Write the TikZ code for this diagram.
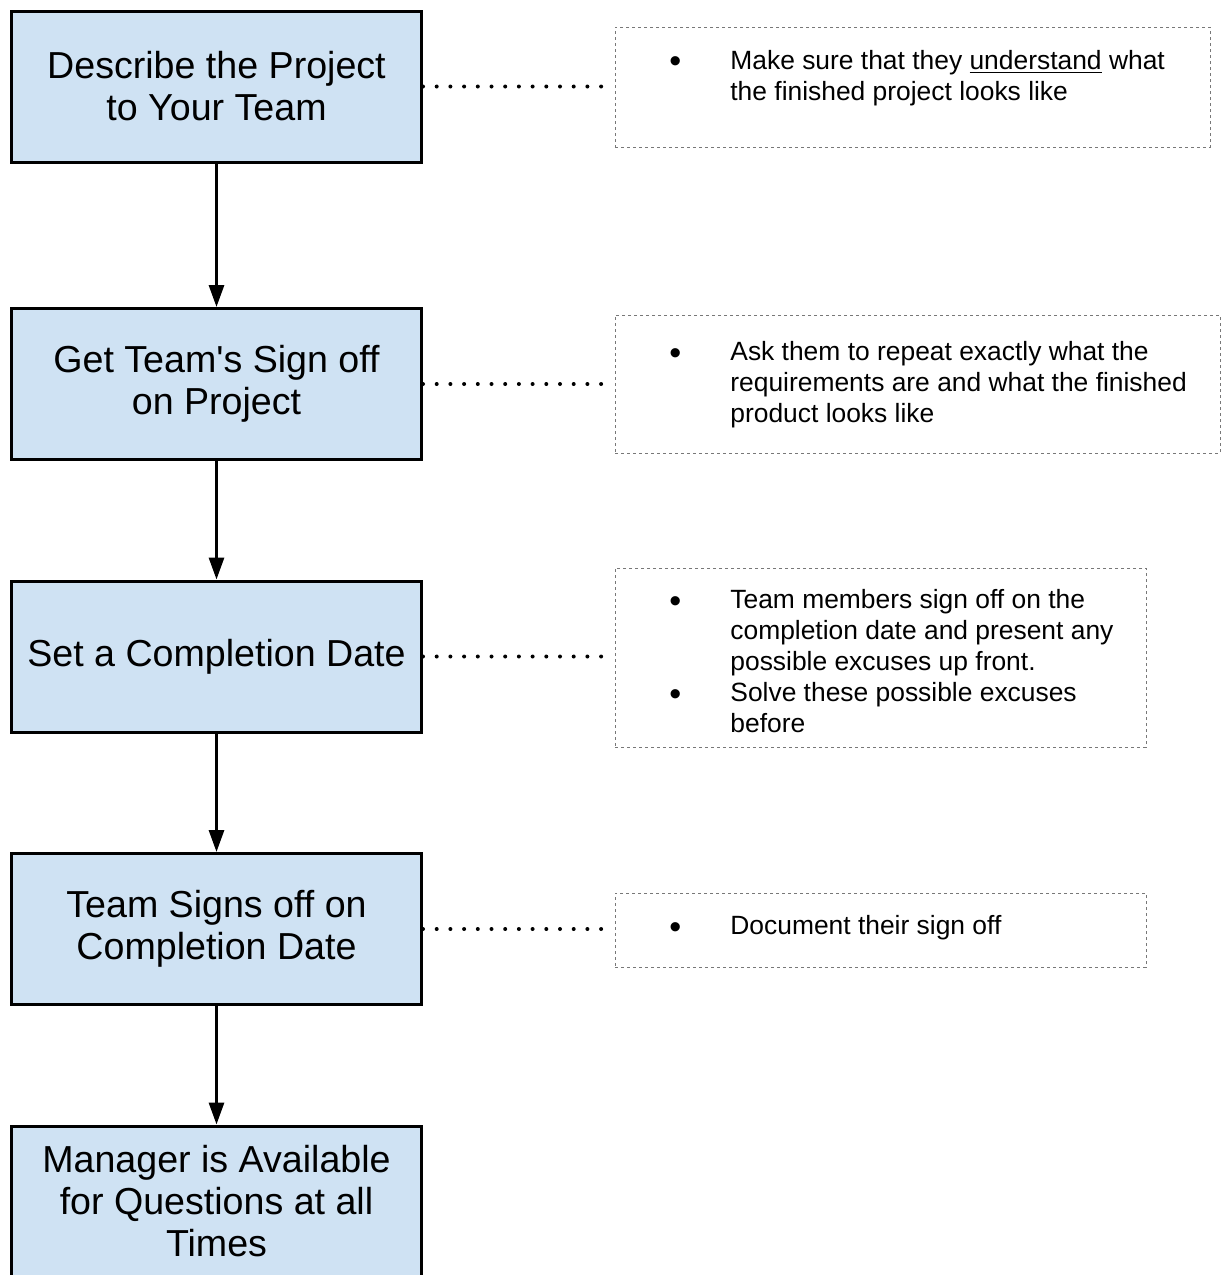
\documentclass[tikz,border=0pt]{standalone}
\usepackage{fontspec}
\setmainfont{Liberation Sans}
\usetikzlibrary{arrows.meta}
\definecolor{stepblue}{RGB}{207,226,243}
\definecolor{notegray}{RGB}{120,120,120}
\newcommand{\notebullet}{\hspace*{-1pt}\raisebox{-1.8pt}{\fontsize{17}{15.5}\selectfont\textbullet}}

\begin{document}
\begin{tikzpicture}[x=0.5pt, y=-0.5pt,
    task/.style ={rectangle, draw, line width=1.5pt, fill=stepblue, inner sep=0pt,
      minimum width=205pt, minimum height=75.5pt, align=center,
      font=\fontsize{18.8}{21}\selectfont},
    note/.style ={rectangle, draw=notegray, line width=0.5pt, inner sep=0pt,
      dash pattern=on 1.5pt off 1.5pt},
    notetext/.style ={anchor=west, inner sep=0pt, align=left,
      font=\fontsize{13.2}{15.5}\selectfont},
    link/.style ={line width=1.5pt, -{Triangle[length=11pt,width=7.5pt]}},
    dots/.style ={line width=2pt, line cap=round, dash pattern=on 0pt off 6.85pt}]
   \useasboundingbox (0,0) rectangle (1222,1275);

   \node[task] (describe)  at (216.5,86.5)  {Describe the Project\\to Your Team};
   \node[task] (signoff)   at (216.5,384)   {Get Team\textquotesingle s Sign off\\on Project};
   \node[task] (setdate)   at (216.5,656.5) {Set a Completion Date};
   \node[task] (teamsigns) at (216.5,929)   {Team Signs off on\\Completion Date};
   \node[task] (manager)   at (216.5,1201.5) {Manager is Available\\for Questions at all\\Times};

   \node[note, minimum width=297.5pt, minimum height=60pt]   (note1) at (912.5,87)  {};
   \node[note, minimum width=302.5pt, minimum height=69pt]   (note2) at (917.5,384) {};
   \node[note, minimum width=265.5pt, minimum height=89.5pt] (note3) at (880.5,657.5) {};
   \node[note, minimum width=265.5pt, minimum height=37pt]   (note4) at (880.5,930) {};

   \node[notetext] (text1) at (671,78.5) {\begin{tabular}{@{}p{29.5pt}@{}l@{}}
     \notebullet & Make sure that they \underline{understand} what\\
                 & the finished project looks like
   \end{tabular}};
   \node[notetext] (text2) at (671,385.5) {\begin{tabular}{@{}p{29.5pt}@{}l@{}}
     \notebullet & Ask them to repeat exactly what the\\
                 & requirements are and what the finished\\
                 & product looks like
   \end{tabular}};
   \node[notetext] (text3) at (671,664.5) {\begin{tabular}{@{}p{29.5pt}@{}l@{}}
     \notebullet & Team members sign off on the\\
                 & completion date and present any\\
                 & possible excuses up front.\\
     \notebullet & Solve these possible excuses\\
                 & before
   \end{tabular}};
   \node[notetext] (text4) at (671,928.5) {\begin{tabular}{@{}p{29.5pt}@{}l@{}}
     \notebullet & Document their sign off
   \end{tabular}};

   \coordinate (end1) at (605,86.5);
   \coordinate (end2) at (605,384);
   \coordinate (end3) at (605,656.5);
   \coordinate (end4) at (605,929);

   \draw[link] (describe) to (signoff);
   \draw[link] (signoff) to (setdate);
   \draw[link] (setdate) to (teamsigns);
   \draw[link] (teamsigns) to (manager);

   \draw[dots] (describe.east) to (end1);
   \draw[dots] (signoff.east) to (end2);
   \draw[dots] (setdate.east) to (end3);
   \draw[dots] (teamsigns.east) to (end4);
 \end{tikzpicture}
\end{document}
